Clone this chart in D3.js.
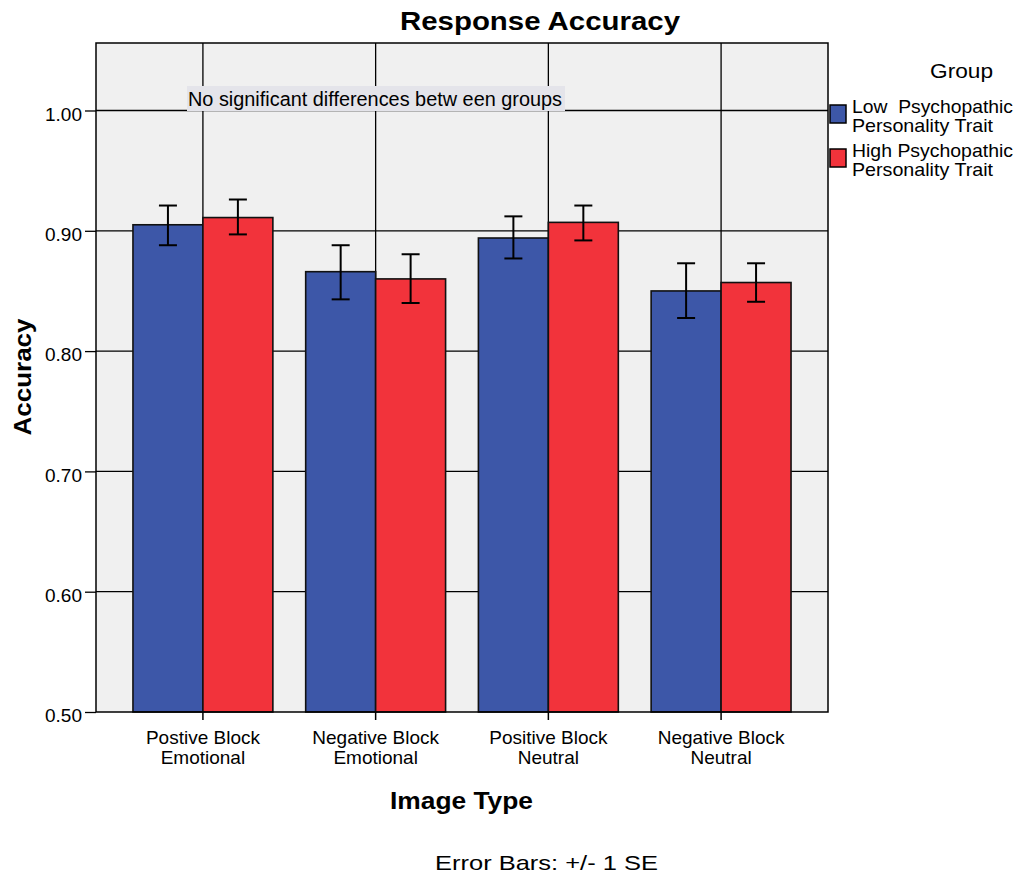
<!DOCTYPE html>
<html>
<head>
<meta charset="utf-8">
<script src="https://cdn.jsdelivr.net/npm/d3@7/dist/d3.min.js"></script>
<style>
  html, body { margin: 0; padding: 0; background: #ffffff; }
  svg text { font-family: "Liberation Sans", Arial, sans-serif; fill: #000; white-space: pre; }
</style>
</head>
<body>
<svg id="chart" width="1023" height="886"></svg>
<script>
// Response accuracy by image type and psychopathic-trait group
const categories = [
  ["Postive Block", "Emotional"],
  ["Negative Block", "Emotional"],
  ["Positive Block", "Neutral"],
  ["Negative Block", "Neutral"]
];
const groups = ["Low Psychopathic Personality Trait", "High Psychopathic Personality Trait"];
const groupLines = [["Low  Psychopathic", "Personality Trait"], ["High Psychopathic", "Personality Trait"]];
const lowMean  = [0.905, 0.866, 0.894, 0.850];
const highMean = [0.911, 0.860, 0.907, 0.857];
const lowLo    = [0.888, 0.843, 0.877, 0.8275];
const lowHi    = [0.921, 0.888, 0.912, 0.873];
const highLo   = [0.897, 0.840, 0.892, 0.841];
const highHi   = [0.926, 0.8805, 0.921, 0.873];
const yTicks = [0.50, 0.60, 0.70, 0.80, 0.90, 1.00];
const colors = ["#3d57a8", "#f2333b"];

const svg = d3.select("#chart");
const plot = { left: 96, right: 828, top: 43, bottom: 712 };

const y = d3.scaleLinear().domain([0.5, 1.0561]).range([plot.bottom, plot.top]);
const x = d3.scaleBand().domain(d3.range(categories.length))
  .range([plot.left, plot.right]).paddingInner(0.19).paddingOuter(0.214);
const xg = d3.scaleBand().domain([0, 1]).range([0, x.bandwidth()]);

// plot background
svg.append("rect")
  .attr("x", plot.left).attr("y", plot.top)
  .attr("width", plot.right - plot.left).attr("height", plot.bottom - plot.top)
  .attr("fill", "#f0f0f0");

// horizontal grid lines
svg.append("g").selectAll("line").data(yTicks.slice(1)).join("line")
  .attr("x1", plot.left).attr("x2", plot.right)
  .attr("y1", d => y(d)).attr("y2", d => y(d))
  .attr("stroke", "#000").attr("stroke-width", 1.3);

// vertical lines through category centres
svg.append("g").selectAll("line").data(d3.range(categories.length)).join("line")
  .attr("x1", d => x(d) + x.bandwidth() / 2).attr("x2", d => x(d) + x.bandwidth() / 2)
  .attr("y1", plot.top).attr("y2", plot.bottom)
  .attr("stroke", "#000").attr("stroke-width", 1.3);

// annotation
const note = svg.append("g");
note.append("rect").attr("x", 187).attr("y", 86).attr("width", 378).attr("height", 25)
  .attr("fill", "#e4e4ea");
note.append("text").attr("x", 188).attr("y", 106).attr("font-size", 19.5)
  .attr("textLength", 374).attr("lengthAdjust", "spacingAndGlyphs")
  .text("No significant differences betw een groups");

// bars
const series = [
  { mean: lowMean, lo: lowLo, hi: lowHi },
  { mean: highMean, lo: highLo, hi: highHi }
];
const barData = [];
series.forEach((s, g) => s.mean.forEach((m, i) => barData.push({ i, g, m, lo: s.lo[i], hi: s.hi[i] })));

svg.append("g").selectAll("rect").data(barData).join("rect")
  .attr("x", d => x(d.i) + xg(d.g))
  .attr("y", d => y(d.m))
  .attr("width", xg.bandwidth())
  .attr("height", d => y(0.5) - y(d.m))
  .attr("fill", d => colors[d.g])
  .attr("stroke", "#111").attr("stroke-width", 1.6);

// error bars
const err = svg.append("g").attr("stroke", "#000").attr("stroke-width", 2);
barData.forEach(d => {
  const cx = x(d.i) + xg(d.g) + xg.bandwidth() / 2;
  err.append("line").attr("x1", cx).attr("x2", cx).attr("y1", y(d.hi)).attr("y2", y(d.lo));
  err.append("line").attr("x1", cx - 9).attr("x2", cx + 9).attr("y1", y(d.hi)).attr("y2", y(d.hi));
  err.append("line").attr("x1", cx - 9).attr("x2", cx + 9).attr("y1", y(d.lo)).attr("y2", y(d.lo));
});

// plot frame
svg.append("rect")
  .attr("x", plot.left).attr("y", plot.top)
  .attr("width", plot.right - plot.left).attr("height", plot.bottom - plot.top)
  .attr("fill", "none").attr("stroke", "#000").attr("stroke-width", 1.5);

// y axis
const yAxis = svg.append("g").attr("transform", `translate(${plot.left},0)`)
  .call(d3.axisLeft(y).tickValues(yTicks).tickFormat(d3.format(".2f")).tickSize(11).tickPadding(3));
yAxis.select(".domain").remove();
yAxis.selectAll("line").attr("stroke", "#000").attr("stroke-width", 1.3);
yAxis.selectAll("text").attr("font-size", 19).attr("dy", "0.52em")
  .attr("font-family", "Liberation Sans, Arial, sans-serif");

// x axis
const xAxis = svg.append("g").attr("transform", `translate(0,${plot.bottom})`)
  .call(d3.axisBottom(x).tickSize(8).tickFormat(""));
xAxis.select(".domain").remove();
xAxis.selectAll("line").attr("stroke", "#000").attr("stroke-width", 1.5);
xAxis.selectAll(".tick").each(function (d) {
  const tick = d3.select(this);
  categories[d].forEach((line, k) => {
    tick.append("text").attr("text-anchor", "middle").attr("x", 0).attr("y", 32 + k * 20)
      .attr("font-size", 19).attr("fill", "#000").text(line);
  });
});

// titles
svg.append("text").attr("x", 540).attr("y", 30).attr("text-anchor", "middle")
  .attr("font-size", 25).attr("font-weight", "bold")
  .attr("textLength", 280).attr("lengthAdjust", "spacingAndGlyphs").text("Response Accuracy");
svg.append("text").attr("x", 461.5).attr("y", 809).attr("text-anchor", "middle")
  .attr("font-size", 23).attr("font-weight", "bold")
  .attr("textLength", 143).attr("lengthAdjust", "spacingAndGlyphs").text("Image Type");
svg.append("text").attr("transform", "translate(31,377) rotate(-90)").attr("text-anchor", "middle")
  .attr("font-size", 24).attr("font-weight", "bold")
  .attr("textLength", 117).attr("lengthAdjust", "spacingAndGlyphs").text("Accuracy");
svg.append("text").attr("x", 546.5).attr("y", 870).attr("text-anchor", "middle")
  .attr("font-size", 21)
  .attr("textLength", 223).attr("lengthAdjust", "spacingAndGlyphs").text("Error Bars: +/- 1 SE");

// legend
const legend = svg.append("g");
legend.append("text").attr("x", 961.5).attr("y", 78).attr("text-anchor", "middle")
  .attr("font-size", 21).attr("textLength", 63).attr("lengthAdjust", "spacingAndGlyphs").text("Group");
const legendWidths = [[161, 141], [161, 141]];
groups.forEach((gname, g) => {
  const top = 105 + g * 44;
  legend.append("rect").attr("x", 830).attr("y", top).attr("width", 16).attr("height", 18)
    .attr("fill", colors[g]).attr("stroke", "#000").attr("stroke-width", 1.5);
  groupLines[g].forEach((line, k) => {
    legend.append("text").attr("x", 852).attr("y", top + 8 + k * 19).attr("font-size", 18.5)
      .attr("textLength", legendWidths[g][k]).attr("lengthAdjust", "spacingAndGlyphs").text(line);
  });
});
</script>
</body>
</html>
